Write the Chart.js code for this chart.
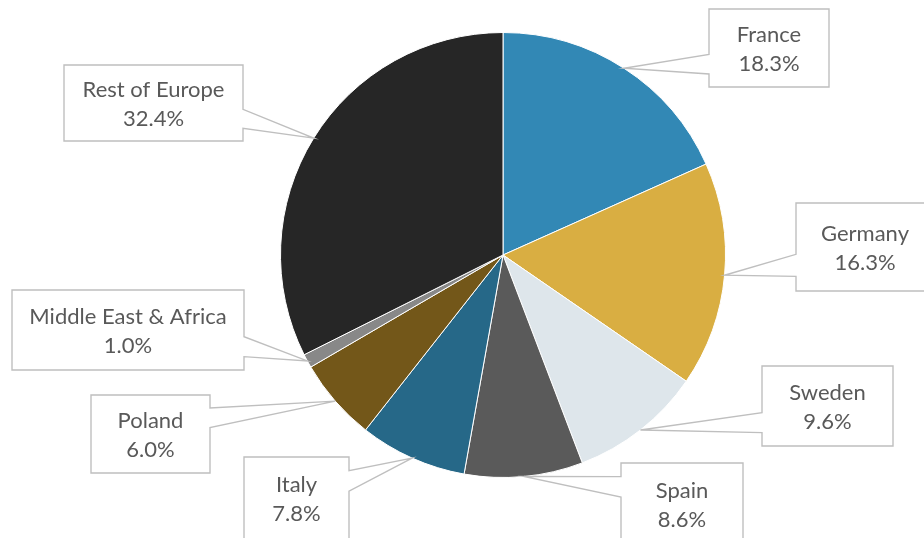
<!DOCTYPE html>
<html>
<head>
<meta charset="utf-8">
<script src="https://cdn.jsdelivr.net/npm/chart.js@4/dist/chart.umd.min.js"></script>
<style>
  html, body { margin: 0; padding: 0; background: #ffffff; }
  #wrap { width: 924px; height: 538px; overflow: hidden; }
</style>
</head>
<body>
<div id="wrap"><canvas id="pie" width="924" height="538"></canvas></div>
<script>
// Regional share of sales (%)
const regions = ['France', 'Germany', 'Sweden', 'Spain', 'Italy', 'Poland', 'Middle East & Africa', 'Rest of Europe'];
const shares = [18.3, 16.3, 9.6, 8.6, 7.8, 6.0, 1.0, 32.4];
const sliceColors = ['#3288B5', '#D9AE42', '#DEE6EB', '#5A5A5A', '#266888', '#735719', '#888888', '#262626'];

// Callout boxes (left, top, width, height) for each region label
const calloutBoxes = [
  { l: 709, t: 9,   w: 120, h: 78 },
  { l: 796, t: 203, w: 138, h: 88 },
  { l: 762, t: 366, w: 131, h: 80 },
  { l: 621, t: 463, w: 122, h: 82 },
  { l: 244, t: 457, w: 105, h: 82 },
  { l: 91,  t: 395, w: 119, h: 78 },
  { l: 12,  t: 290, w: 232, h: 80 },
  { l: 64,  t: 65,  w: 179, h: 76 }
];

// Rectangle with a wedge pointing at (tx, ty)
function wedgeCallout(ctx, b, tx, ty) {
  const l = b.l, t = b.t, r = b.l + b.w, bt = b.t + b.h;
  const hc = l + b.w / 2, vc = t + b.h / 2;
  const dxPos = tx - hc, dyPos = ty - vc;
  const dx = dxPos * b.h, dy = dyPos * b.w;
  const x1 = l + b.w * (dxPos > 0 ? 7 : 2) / 12;
  const x2 = l + b.w * (dxPos > 0 ? 10 : 5) / 12;
  const y1 = t + b.h * (dyPos > 0 ? 7 : 2) / 12;
  const y2 = t + b.h * (dyPos > 0 ? 10 : 5) / 12;
  let side;
  if (Math.abs(dx) > Math.abs(dy)) side = dx < 0 ? 'left' : 'right';
  else side = dy < 0 ? 'top' : 'bottom';

  ctx.beginPath();
  ctx.moveTo(l, t);
  if (side === 'top') { ctx.lineTo(x1, t); ctx.lineTo(tx, ty); ctx.lineTo(x2, t); }
  ctx.lineTo(r, t);
  if (side === 'right') { ctx.lineTo(r, y1); ctx.lineTo(tx, ty); ctx.lineTo(r, y2); }
  ctx.lineTo(r, bt);
  if (side === 'bottom') { ctx.lineTo(x2, bt); ctx.lineTo(tx, ty); ctx.lineTo(x1, bt); }
  ctx.lineTo(l, bt);
  if (side === 'left') { ctx.lineTo(l, y2); ctx.lineTo(tx, ty); ctx.lineTo(l, y1); }
  ctx.closePath();
  ctx.fillStyle = '#ffffff';
  ctx.fill();
  ctx.lineWidth = 1.4;
  ctx.strokeStyle = '#BFBFBF';
  ctx.stroke();
}

const calloutPlugin = {
  id: 'callouts',
  afterDatasetsDraw(chart) {
    const ctx = chart.ctx;
    const meta = chart.getDatasetMeta(0);
    ctx.save();
    meta.data.forEach((arc, i) => {
      const p = arc.getProps(['x', 'y', 'startAngle', 'endAngle', 'outerRadius'], true);
      const mid = (p.startAngle + p.endAngle) / 2;
      const tx = p.x + Math.cos(mid) * p.outerRadius;
      const ty = p.y + Math.sin(mid) * p.outerRadius;
      const b = calloutBoxes[i];
      wedgeCallout(ctx, b, tx, ty);
      const cx = b.l + b.w / 2, cy = b.t + b.h / 2;
      ctx.fillStyle = '#595959';
      ctx.font = '22px Lato, "Open Sans", sans-serif';
      ctx.textAlign = 'center';
      ctx.textBaseline = 'alphabetic';
      ctx.fillText(chart.data.labels[i], cx, cy - 6);
      ctx.fillText(chart.data.datasets[0].data[i].toFixed(1) + '%', cx, cy + 23);
    });
    ctx.restore();
  }
};

new Chart(document.getElementById('pie'), {
  type: 'pie',
  data: {
    labels: regions,
    datasets: [{
      data: shares,
      backgroundColor: sliceColors,
      borderColor: '#ffffff',
      borderWidth: 1
    }]
  },
  options: {
    responsive: false,
    devicePixelRatio: 1,
    animation: false,
    layout: { padding: { left: 280, right: 198, top: 32, bottom: 60 } },
    plugins: {
      legend: { display: false },
      tooltip: { enabled: false }
    }
  },
  plugins: [calloutPlugin]
});
</script>
</body>
</html>
